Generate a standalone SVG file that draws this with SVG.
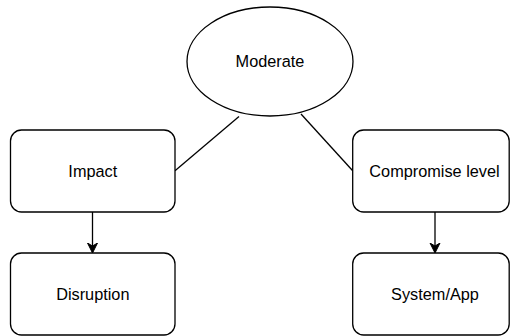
<svg xmlns="http://www.w3.org/2000/svg" width="510" height="336" viewBox="0 0 510 336">
<defs>
<marker id="arr" markerWidth="10" markerHeight="12" viewBox="0 0 10 12" refX="9" refY="6" orient="auto" markerUnits="userSpaceOnUse">
<path d="M0,1 L10,6 L0,11 L3,6 Z" fill="#000" stroke="#000" stroke-width="1"/>
</marker>
</defs>
<style>
.shape{fill:#fff;stroke:#000;stroke-width:1.3}
.lbl{font-family:"Liberation Sans",Arial,sans-serif;font-size:16.3px;fill:#000;text-anchor:middle}
.edge{stroke:#000;stroke-width:1.3;fill:none}
</style>
<rect width="510" height="336" fill="#fff"/>
<g id="connectors">
<line class="edge" x1="239" y1="116.5" x2="175" y2="170.7"/>
<line class="edge" x1="301" y1="114" x2="352.7" y2="170.7"/>
<line class="edge" x1="92.5" y1="212" x2="92.5" y2="252" marker-end="url(#arr)"/>
<line class="edge" x1="435" y1="212" x2="435" y2="252" marker-end="url(#arr)"/>
</g>
<g id="moderate">
<ellipse class="shape" cx="270" cy="61.5" rx="83" ry="54.5"/>
<text class="lbl" x="270" y="67.3">Moderate</text>
</g>
<g id="impact">
<rect class="shape" x="10.5" y="130" width="164.5" height="82" rx="11"/>
<text class="lbl" x="92.8" y="176.7">Impact</text>
</g>
<g id="disruption">
<rect class="shape" x="10.5" y="253" width="164.5" height="82" rx="11"/>
<text class="lbl" x="92.8" y="299.7">Disruption</text>
</g>
<g id="compromise">
<rect class="shape" x="352.7" y="130" width="156.5" height="82" rx="11"/>
<text class="lbl" x="434.5" y="176.7">Compromise level</text>
</g>
<g id="system">
<rect class="shape" x="352.7" y="253" width="156.5" height="82" rx="11"/>
<text class="lbl" x="435" y="299.7">System/App</text>
</g>
</svg>
